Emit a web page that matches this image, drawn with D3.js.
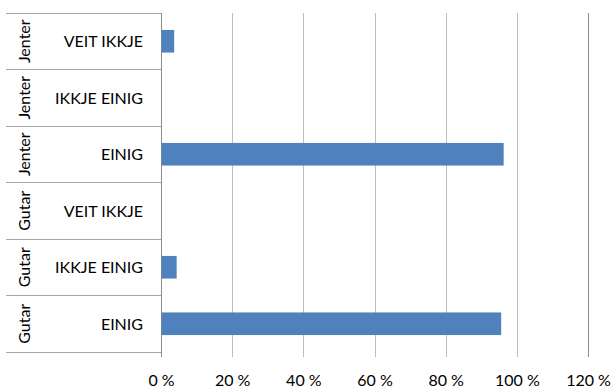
<!DOCTYPE html>
<html>
<head>
<meta charset="utf-8">
<script src="https://cdn.jsdelivr.net/npm/d3@7"></script>
<style>
  html, body { margin: 0; padding: 0; background: #fff; }
  svg { display: block; }
  text { font-family: Lato, "Liberation Sans", Arial, sans-serif; fill: #000; }
</style>
</head>
<body>
<svg id="chart" width="614" height="389"></svg>
<script>
// Rows from top to bottom: group, answer, share (%)
const groups  = ["Jenter", "Jenter", "Jenter", "Gutar", "Gutar", "Gutar"];
const answers = ["VEIT IKKJE", "IKKJE EINIG", "EINIG", "VEIT IKKJE", "IKKJE EINIG", "EINIG"];
const shares  = [3.7, 0, 96.3, 0, 4.4, 95.6];
const xTicks  = [0, 20, 40, 60, 80, 100, 120];

const rows = answers.map((a, i) => ({ key: i, group: groups[i], answer: a, value: shares[i] }));

const svg = d3.select("#chart");
const plot = { left: 161, right: 588, top: 13, bottom: 352, labelLeft: 6 };
const fontSize = 16;

const x = d3.scaleLinear().domain([0, 120]).range([plot.left, plot.right]);
const y = d3.scaleBand().domain(rows.map(d => d.key)).range([plot.top, plot.bottom]).paddingInner(0).paddingOuter(0);
const barPad = 0.3;

// vertical gridlines with tick marks below the plot
const xAxis = d3.axisBottom(x).tickValues(xTicks).tickSize(-(plot.bottom - plot.top) - 5)
  .tickFormat(d => d + "\u00a0%");
const gx = svg.append("g").attr("transform", `translate(0,${plot.bottom + 5})`).call(xAxis);
gx.select(".domain").remove();
gx.selectAll(".tick line")
  .attr("stroke", d => (d === 0 || d === 120) ? "#8c8c8c" : "#bdbdbd")
  .attr("stroke-width", 1)
  .attr("shape-rendering", "crispEdges");
gx.selectAll(".tick text").attr("y", 29).attr("dy", null).attr("font-size", fontSize)
  .style("font-family", 'Lato, "Liberation Sans", Arial, sans-serif');

// category separators across the label area
const seps = d3.range(rows.length + 1).map(i => plot.top + i * y.bandwidth());
svg.append("g").selectAll("line").data(seps).join("line")
  .attr("x1", plot.labelLeft).attr("x2", plot.left).attr("y1", d => d).attr("y2", d => d)
  .attr("stroke", "#a6a6a6").attr("stroke-width", 1).attr("shape-rendering", "crispEdges");

// bars
svg.append("g").selectAll("rect").data(rows).join("rect")
  .attr("x", x(0) + 0.5)
  .attr("y", d => y(d.key) + y.bandwidth() * barPad)
  .attr("width", d => Math.max(0, x(d.value) - x(0) - 0.5))
  .attr("height", y.bandwidth() * (1 - 2 * barPad))
  .attr("fill", "#4f81bd");

// answer labels
svg.append("g").selectAll("text").data(rows).join("text")
  .attr("x", 143).attr("y", d => y(d.key) + y.bandwidth() / 2 + 6)
  .attr("text-anchor", "end")
  .attr("font-size", fontSize).text(d => d.answer);

// group labels, rotated
svg.append("g").selectAll("text").data(rows).join("text")
  .attr("transform", d => `translate(30,${y(d.key) + y.bandwidth() / 2}) rotate(-90)`)
  .attr("text-anchor", "middle")
  .attr("font-size", fontSize).text(d => d.group);
</script>
</body>
</html>
